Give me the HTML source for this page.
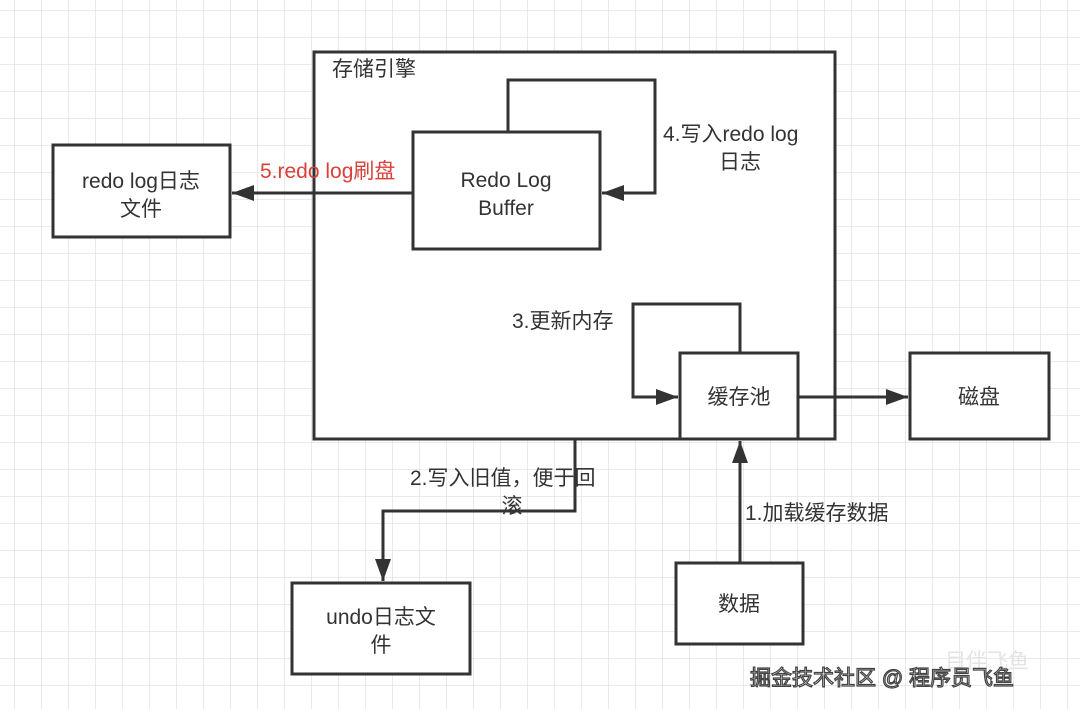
<!DOCTYPE html>
<html><head><meta charset="utf-8"><style>
html,body{margin:0;padding:0;background:#fff}
svg{display:block}
text{font-family:"Liberation Sans","Noto Sans CJK SC",sans-serif;font-size:21px;fill:#333}
</style></head><body>
<svg width="1080" height="709" viewBox="0 0 1080 709" xmlns="http://www.w3.org/2000/svg">
<defs>
<pattern id="g" x="14" y="10" width="27" height="27" patternUnits="userSpaceOnUse">
<path d="M0 0H27M0 0V27" stroke="#dedede" stroke-width="1.3" fill="none"/>
</pattern>
<marker id="b" viewBox="0 0 22 16" markerWidth="22" markerHeight="16" refX="22" refY="8" orient="auto" markerUnits="userSpaceOnUse">
<path d="M0 0L22 8L0 16Z" fill="#333"/>
</marker>
</defs>
<rect width="1080" height="709" fill="#fff"/>
<rect width="1080" height="709" fill="url(#g)"/>
<g fill="#fff" stroke="#333" stroke-width="3">
<rect x="314" y="52" width="521" height="387"/>
<rect x="53" y="145" width="177" height="92"/>
<rect x="413" y="132" width="187" height="117"/>
<rect x="680" y="353" width="118" height="86"/>
<rect x="910" y="353" width="139" height="86"/>
<rect x="676" y="563" width="127" height="81"/>
<rect x="292" y="583" width="178" height="91"/>
</g>
<g fill="none" stroke="#333" stroke-width="3">
<path d="M508 132V80H655V193H602" marker-end="url(#b)"/>
<path d="M413 193H232" marker-end="url(#b)"/>
<path d="M740 353V304H633V397H678" marker-end="url(#b)"/>
<path d="M798 397H908" marker-end="url(#b)"/>
<path d="M740 563V441" marker-end="url(#b)"/>
<path d="M575 439V511H383V581" marker-end="url(#b)"/>
</g>
<text x="332" y="76" font-size="20">存储引擎</text>
<text x="141" y="188" text-anchor="middle">redo log日志</text>
<text x="141" y="216" text-anchor="middle">文件</text>
<text x="260" y="178" style="fill:#d9403a">5.redo log刷盘</text>
<text x="506" y="187" text-anchor="middle">Redo Log</text>
<text x="506" y="215" text-anchor="middle">Buffer</text>
<text x="663" y="141">4.写入redo log</text>
<text x="740" y="169" text-anchor="middle">日志</text>
<text x="512" y="328">3.更新内存</text>
<text x="739" y="404" text-anchor="middle">缓存池</text>
<text x="979" y="404" text-anchor="middle">磁盘</text>
<text x="410" y="485">2.写入旧值，便于回</text>
<text x="512" y="513" text-anchor="middle">滚</text>
<text x="745" y="520">1.加载缓存数据</text>
<text x="739" y="611" text-anchor="middle">数据</text>
<text x="381" y="624" text-anchor="middle">undo日志文</text>
<text x="381" y="652" text-anchor="middle">件</text>
<text x="945" y="668" font-size="26" style="fill:#e4e4e4">目伴飞鱼</text>
<text x="750" y="685" font-size="26" style="fill:#fff;stroke:#444;stroke-width:1.2">掘金技术社区 @ 程序员飞鱼</text>
</svg>
</body></html>
